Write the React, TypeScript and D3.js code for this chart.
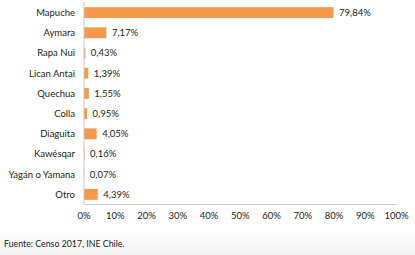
import React from "react";
import * as d3 from "d3";

const categories = ["Mapuche", "Aymara", "Rapa Nui", "Lican Antai", "Quechua", "Colla", "Diaguita", "Kawésqar", "Yagán o Yamana", "Otro"];
const values = [79.84, 7.17, 0.43, 1.39, 1.55, 0.95, 4.05, 0.16, 0.07, 4.39];
const valueLabels = ["79,84%", "7,17%", "0,43%", "1,39%", "1,55%", "0,95%", "4,05%", "0,16%", "0,07%", "4,39%"];
const xTicks = [0, 10, 20, 30, 40, 50, 60, 70, 80, 90, 100];
const source = "Fuente: Censo 2017, INE Chile.";

const W = 415;
const H = 255;
const FONT = "Lato, 'Liberation Sans', sans-serif";

export default function App() {
  const x = d3.scaleLinear().domain([0, 100]).range([84, 396.5]);
  const y = d3.scaleBand<string>().domain(categories).range([2.5, 204.5]).paddingInner(0.46).paddingOuter(0.23);
  const bh = y.bandwidth();
  return (
    <svg width={W} height={H} style={{ position: "fixed", left: 0, top: 0, background: "#fff" }}>
      <defs>
        <linearGradient id="bg" x1="0" y1="0" x2="0" y2="1">
          <stop offset="0" stopColor="#ffffff" />
          <stop offset="1" stopColor="#f1f1f1" />
        </linearGradient>
      </defs>
      <rect x={0} y={0} width={W} height={H} fill="#fff" />
      <rect x={0} y={230} width={W} height={25} fill="url(#bg)" />
      {categories.map((c, i) => (
        <g key={c}>
          <rect x={x(0)} y={y(c)!} width={x(values[i]) - x(0)} height={bh} fill="#F59A4C" />
          <text x={75} y={y(c)! + bh / 2} dy="0.35em" textAnchor="end" fontFamily={FONT} fontSize={9.5} fill="#222">
            {c}
          </text>
          <text x={x(values[i]) + 5.5} y={y(c)! + bh / 2} dy="0.35em" fontFamily={FONT} fontSize={9.5} fill="#222">
            {valueLabels[i]}
          </text>
        </g>
      ))}
      <line x1={x(0)} x2={x(0)} y1={2} y2={204.5} stroke="#c8c8c8" strokeWidth={1} />
      <line x1={x(0)} x2={x(100)} y1={204.5} y2={204.5} stroke="#c8c8c8" strokeWidth={1} />
      {xTicks.map((t) => (
        <text key={t} x={x(t)} y={216} dy="0.35em" textAnchor="middle" fontFamily={FONT} fontSize={9.5} fill="#222">
          {t + "%"}
        </text>
      ))}
      <text x={4} y={243.5} dy="0.35em" fontFamily={FONT} fontSize={8.8} fill="#222">
        {source}
      </text>
    </svg>
  );
}
